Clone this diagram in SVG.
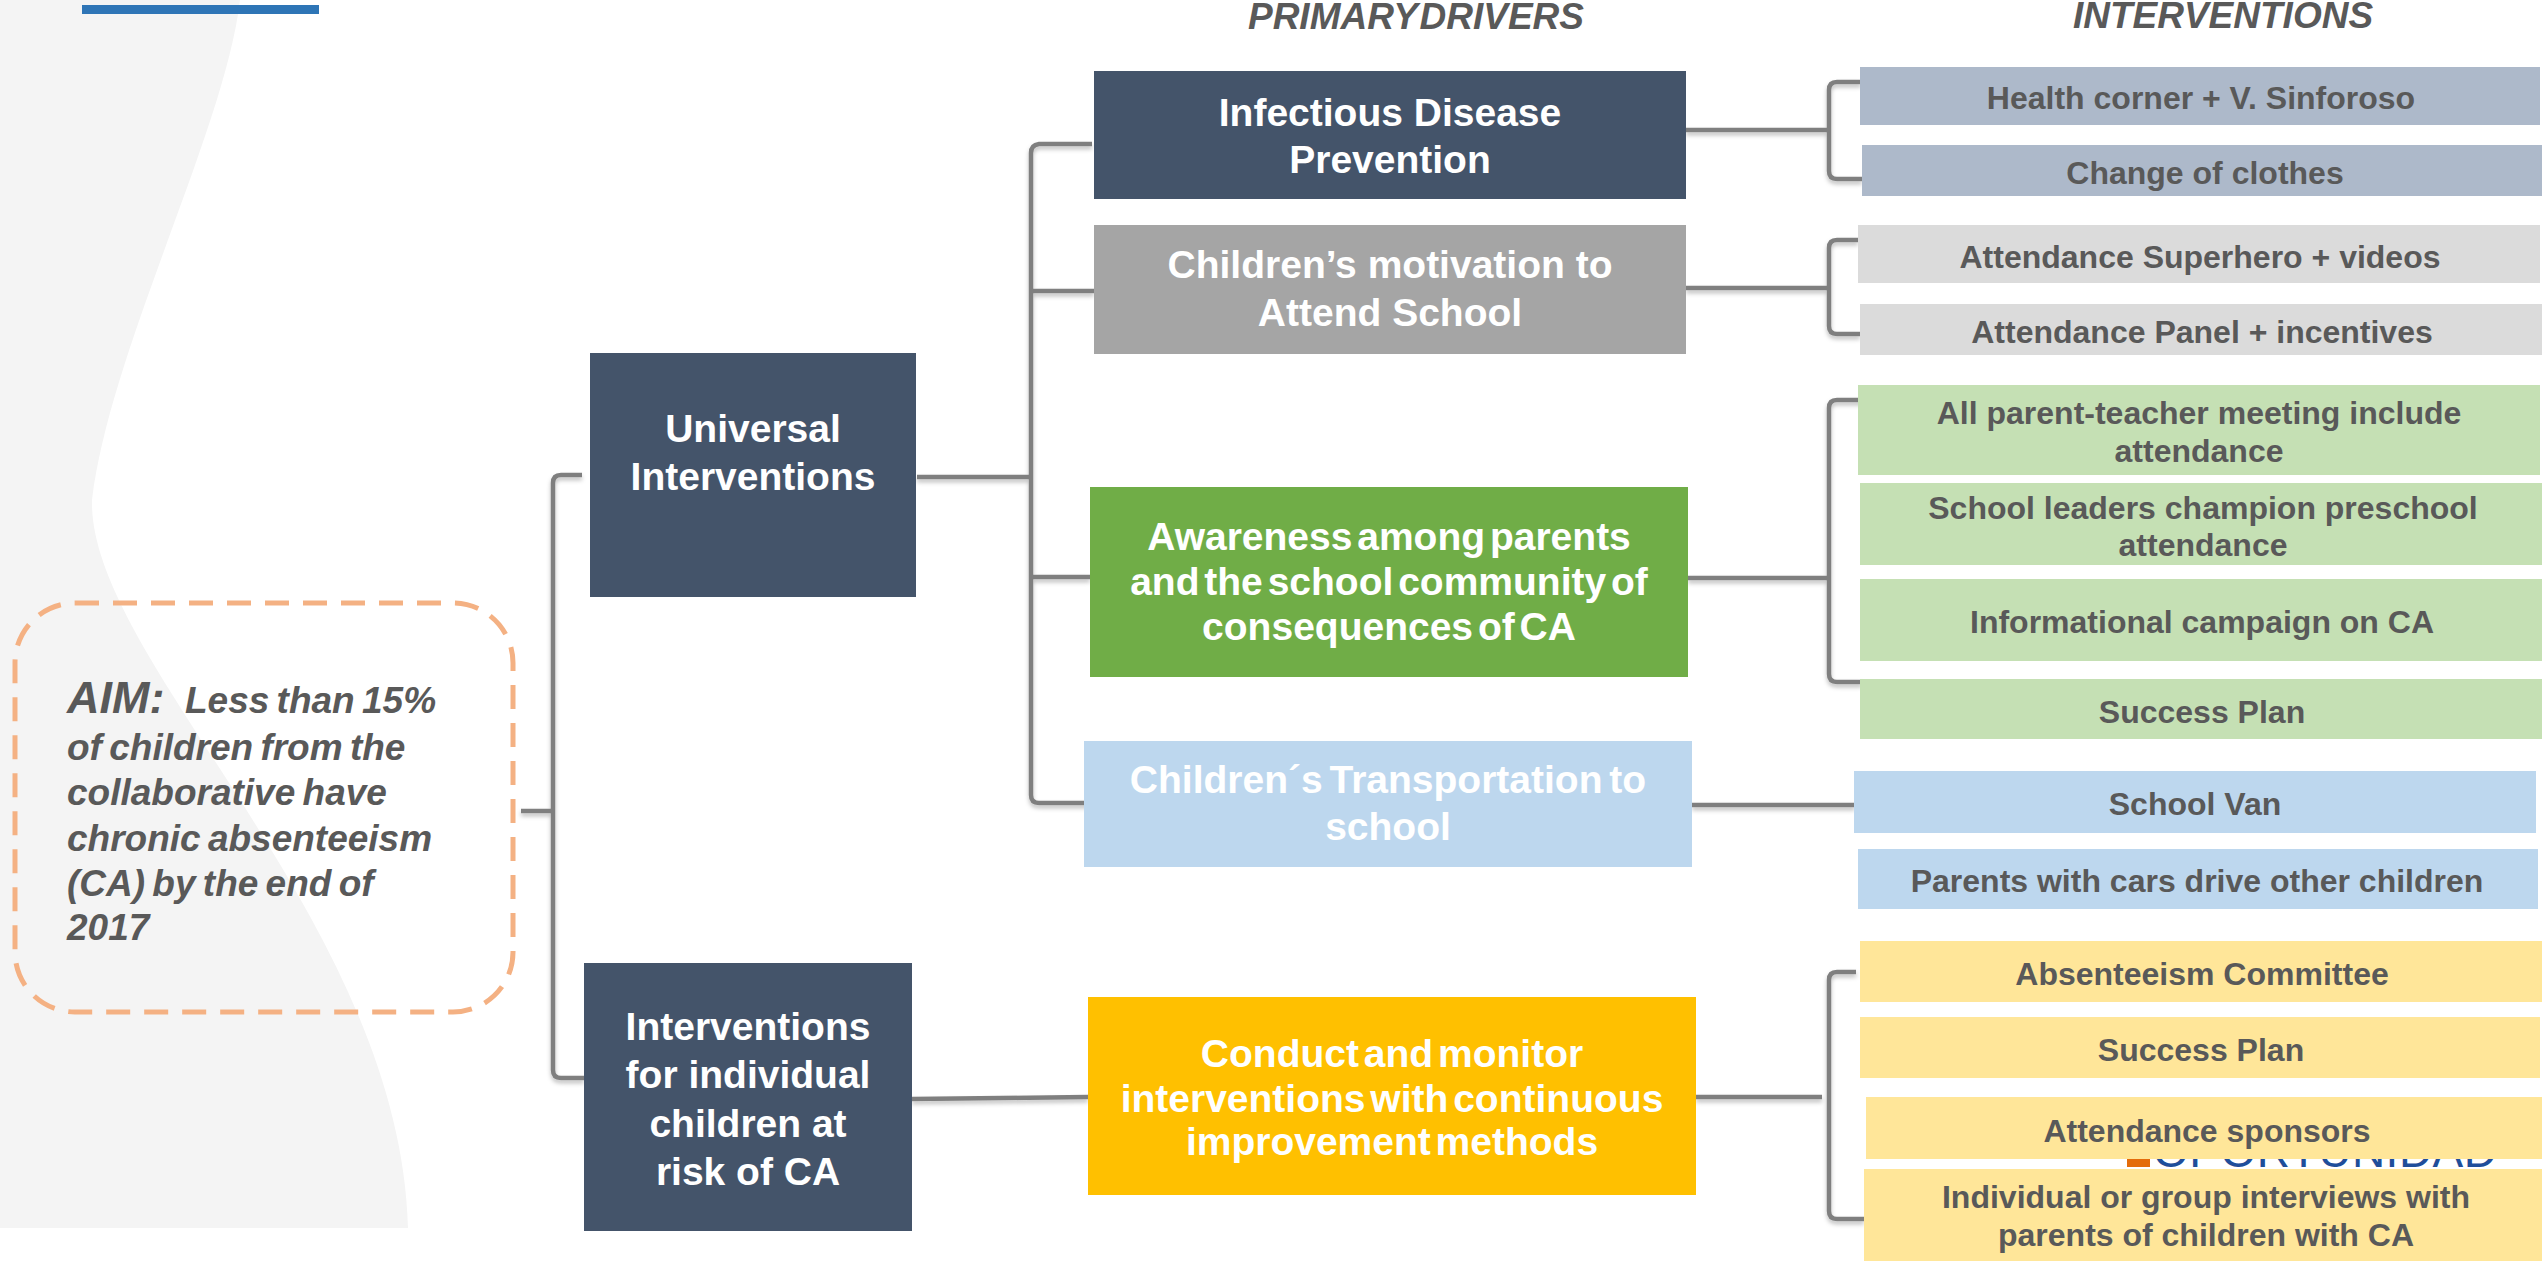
<svg xmlns="http://www.w3.org/2000/svg" width="2542" height="1261" viewBox="0 0 2542 1261">
<defs>
<style>
.conn path{fill:none;stroke:#7F7F7F;stroke-width:4.5;stroke-linejoin:round}
.wt{font-family:"Liberation Sans",Arial,sans-serif;font-weight:bold;fill:#FFFFFF;text-anchor:middle;font-size:39px}
.tight{word-spacing:-6px}
.gt{font-family:"Liberation Sans",Arial,sans-serif;font-weight:bold;fill:#595959;text-anchor:middle;font-size:32px}
.hd{font-family:"Liberation Sans",Arial,sans-serif;font-weight:bold;font-style:italic;fill:#595959;text-anchor:middle;font-size:37px;word-spacing:-8px}
.aim{font-family:"Liberation Sans",Arial,sans-serif;font-weight:bold;font-style:italic;fill:#595959;font-size:37px;word-spacing:-3px}
.navy{fill:#44546A}
.iv1{fill:#ADB9CA}
.iv2{fill:#DBDBDB}
.iv3{fill:#C5E0B4}
.iv4{fill:#BDD7EE}
.iv5{fill:#FFE699}
</style>
<filter id="sh" x="-10%" y="-10%" width="120%" height="120%">
<feDropShadow dx="0" dy="3" stdDeviation="2" flood-color="#000000" flood-opacity="0.25"/>
</filter>
<clipPath id="gap"><rect x="2100" y="1159" width="442" height="10"/></clipPath>
</defs>
<rect x="0" y="0" width="2542" height="1261" fill="#FFFFFF"/>
<path d="M0,0 H240 C225,130 110,350 92,500 C88,660 400,920 408,1228 H0 Z" fill="#F4F4F4"/>
<rect x="82" y="5" width="237" height="9" fill="#2E75B6"/>

<!-- partially hidden logo, visible only in the gap between two boxes -->
<g id="logo" clip-path="url(#gap)">
<rect x="2127" y="1125" width="23" height="42" fill="#E46C0A"/>
<text x="2153" y="1167" font-family="Liberation Sans, Arial, sans-serif" font-size="46" fill="#1F4E9A" textLength="344">OPORTUNIDAD</text>
</g>

<text class="hd" x="1416" y="29">PRIMARY DRIVERS</text>
<text class="hd" x="2223" y="28">INTERVENTIONS</text>

<g id="connectors" class="conn" filter="url(#sh)">
<path d="M521,811 H553"/>
<path d="M582,475 H561 Q553,475 553,483 V1070 Q553,1078 561,1078 H584"/>
<path d="M917,477 H1031"/>
<path d="M1092,144 H1039 Q1031,145 1031,153 V795 Q1031,803 1039,803 H1094"/>
<path d="M1031,291 H1094"/>
<path d="M1031,577 H1090"/>
<path d="M1686,130 H1829"/>
<path d="M1861,82 H1837 Q1829,82 1829,90 V171 Q1829,179 1837,179 H1862"/>
<path d="M1686,288 H1829"/>
<path d="M1858,240 H1837 Q1829,240 1829,248 V326 Q1829,334 1837,334 H1860"/>
<path d="M1688,578 H1829"/>
<path d="M1864,400 H1837 Q1829,400 1829,408 V674 Q1829,682 1837,682 H1862"/>
<path d="M1692,805 H1855"/>
<path d="M912,1099 L1088,1097"/>
<path d="M1696,1097 H1822"/>
<path d="M1856,972 H1837 Q1829,972 1829,980 V1211 Q1829,1219 1837,1219 H1864"/>
</g>

<g id="aim">
<rect x="15" y="603" width="498" height="409" rx="60" ry="60" fill="none" stroke="#F4B183" stroke-width="5" stroke-dasharray="24 14"/>
<text class="aim" x="67" y="713"><tspan font-size="45">AIM:</tspan><tspan x="185">Less than 15%</tspan></text>
<text class="aim" x="67" y="760">of children from the</text>
<text class="aim" x="67" y="805">collaborative have</text>
<text class="aim" x="67" y="851">chronic absenteeism</text>
<text class="aim" x="67" y="896">(CA) by the end of</text>
<text class="aim" x="67" y="940">2017</text>
</g>

<g id="universal">
<rect class="navy" x="590" y="353" width="326" height="244"/>
<text class="wt" x="753" y="442">Universal</text>
<text class="wt" x="753" y="490">Interventions</text>
</g>

<g id="individual">
<rect class="navy" x="584" y="963" width="328" height="268"/>
<text class="wt" x="748" y="1040">Interventions</text>
<text class="wt" x="748" y="1088">for individual</text>
<text class="wt" x="748" y="1137">children at</text>
<text class="wt" x="748" y="1185">risk of CA</text>
</g>

<g id="infectious">
<rect class="navy" x="1094" y="71" width="592" height="128"/>
<text class="wt" x="1390" y="126">Infectious Disease</text>
<text class="wt" x="1390" y="173">Prevention</text>
</g>

<g id="motivation">
<rect x="1094" y="225" width="592" height="129" fill="#A5A5A5"/>
<text class="wt" x="1390" y="278">Children’s motivation to</text>
<text class="wt" x="1390" y="326">Attend School</text>
</g>

<g id="awareness">
<rect x="1090" y="487" width="598" height="190" fill="#70AD47"/>
<text class="wt tight" x="1389" y="550">Awareness among parents</text>
<text class="wt tight" x="1389" y="595">and the school community of</text>
<text class="wt tight" x="1389" y="640">consequences of CA</text>
</g>

<g id="transport">
<rect x="1084" y="741" width="608" height="126" fill="#BDD7EE"/>
<text class="wt" x="1388" y="793" font-size="38" word-spacing="-4">Children´s Transportation to</text>
<text class="wt" x="1388" y="840" font-size="38">school</text>
</g>

<g id="conduct">
<rect x="1088" y="997" width="608" height="198" fill="#FFC000"/>
<text class="wt tight" x="1392" y="1067">Conduct and monitor</text>
<text class="wt tight" x="1392" y="1112">interventions with continuous</text>
<text class="wt tight" x="1392" y="1155">improvement methods</text>
</g>

<g id="iv-health">
<rect class="iv1" x="1860" y="67" width="680" height="58"/>
<text class="gt" x="2201" y="109">Health corner + V. Sinforoso</text>
</g>
<g id="iv-clothes">
<rect class="iv1" x="1862" y="145" width="680" height="51"/>
<text class="gt" x="2205" y="184">Change of clothes</text>
</g>
<g id="iv-superhero">
<rect class="iv2" x="1858" y="225" width="682" height="58"/>
<text class="gt" x="2200" y="268">Attendance Superhero + videos</text>
</g>
<g id="iv-panel">
<rect class="iv2" x="1860" y="304" width="682" height="51"/>
<text class="gt" x="2202" y="343">Attendance Panel + incentives</text>
</g>
<g id="iv-meeting">
<rect class="iv3" x="1858" y="385" width="682" height="90"/>
<text class="gt" x="2199" y="424">All parent-teacher meeting include</text>
<text class="gt" x="2199" y="462">attendance</text>
</g>
<g id="iv-leaders">
<rect class="iv3" x="1860" y="483" width="682" height="82"/>
<text class="gt" x="2203" y="519">School leaders champion preschool</text>
<text class="gt" x="2203" y="556">attendance</text>
</g>
<g id="iv-campaign">
<rect class="iv3" x="1860" y="579" width="682" height="82"/>
<text class="gt" x="2202" y="633">Informational campaign on CA</text>
</g>
<g id="iv-success1">
<rect class="iv3" x="1860" y="679" width="682" height="60"/>
<text class="gt" x="2202" y="723">Success Plan</text>
</g>
<g id="iv-van">
<rect class="iv4" x="1854" y="771" width="682" height="62"/>
<text class="gt" x="2195" y="815">School Van</text>
</g>
<g id="iv-cars">
<rect class="iv4" x="1858" y="849" width="680" height="60"/>
<text class="gt" x="2197" y="892">Parents with cars drive other children</text>
</g>
<g id="iv-committee">
<rect class="iv5" x="1860" y="941" width="682" height="61"/>
<text class="gt" x="2202" y="985">Absenteeism Committee</text>
</g>
<g id="iv-success2">
<rect class="iv5" x="1860" y="1017" width="680" height="61"/>
<text class="gt" x="2201" y="1061">Success Plan</text>
</g>
<g id="iv-sponsors">
<rect class="iv5" x="1866" y="1097" width="676" height="62"/>
<text class="gt" x="2207" y="1142">Attendance sponsors</text>
</g>
<g id="iv-interviews">
<rect class="iv5" x="1864" y="1169" width="678" height="92"/>
<text class="gt" x="2206" y="1208">Individual or group interviews with</text>
<text class="gt" x="2206" y="1246">parents of children with CA</text>
</g>
</svg>
